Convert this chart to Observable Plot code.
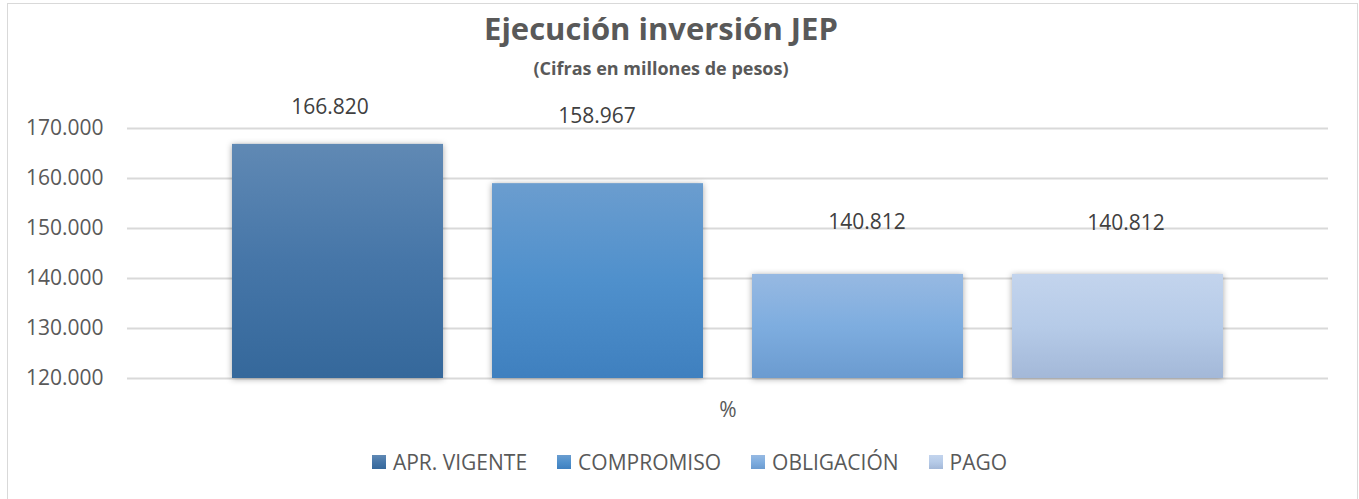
<!DOCTYPE html>
<html>
<head>
<meta charset="utf-8">
<script src="https://cdn.jsdelivr.net/npm/d3@7"></script>
<script src="https://cdn.jsdelivr.net/npm/@observablehq/plot@0.6"></script>
<style>
  html, body { margin: 0; padding: 0; background: #fff; width: 1359px; height: 499px; overflow: hidden; }
  body { font-family: "Open Sans", sans-serif; position: relative; }
  #frame { position: absolute; left: 7px; top: 3px; width: 1351px; height: 520px; border: 1px solid #d9d9d9; box-sizing: border-box; pointer-events: none; }
  #chart { position: absolute; left: 0; top: 0; width: 1359px; }
  #header { position: relative; height: 85px; }
  #title { position: absolute; left: 0; width: 1322px; top: 13px; text-align: center; font-weight: 700; font-size: 31px; line-height: 1; color: #595959; }
  #subtitle { position: absolute; left: 0; width: 1322px; top: 59px; text-align: center; font-weight: 700; font-size: 18px; line-height: 1; color: #595959; }
  #plot svg { display: block; overflow: visible; }
  #plot svg g[aria-label="bar"] rect { filter: drop-shadow(0px 1px 3px rgba(0,0,0,0.35)); }
  #legend { height: 74px; display: flex; justify-content: center; align-items: center; padding-left: 20px; box-sizing: border-box; font-size: 21px; line-height: 1; color: #595959; }
  .item { display: flex; align-items: center; margin: 0 15px; }
  .sw { width: 14px; height: 14px; margin-right: 7px; }
</style>
</head>
<body>
<svg width="0" height="0" style="position:absolute">
  <defs id="gradDefs"></defs>
</svg>
<div id="frame"></div>
<div id="chart">
  <div id="header">
    <div id="title"></div>
    <div id="subtitle"></div>
  </div>
  <div id="plot"></div>
  <div id="legend"></div>
</div>
<script>
// ---- data ----
const titleText = "Ejecución inversión JEP";
const subtitleText = "(Cifras en millones de pesos)";
const categories = ["%"];
const series = ["APR. VIGENTE", "COMPROMISO", "OBLIGACIÓN", "PAGO"];
const values = [166820, 158967, 140812, 140812];
const yTicks = [120000, 130000, 140000, 150000, 160000, 170000];

// ---- styles ----
const gradTop = ["#6089b4", "#6b9dcf", "#97b9e2", "#c3d4ed"];
const gradMid = ["#4676a8", "#4f90cc", "#7eaddf", "#b6cbe8"];
const gradBot = ["#35689b", "#3f80bf", "#6b9bd0", "#a3b8d8"];
const labelDx = [-8, -1, 9, 8];
const labelDy = [-37, -67, -52, -51];

const fmt = d3.formatLocale({decimal: ",", thousands: ".", grouping: [3], currency: ["$", ""]}).format(",");

document.getElementById("title").textContent = titleText;
document.getElementById("subtitle").textContent = subtitleText;

// gradients
const defs = document.getElementById("gradDefs");
series.forEach((s, i) => {
  const ns = "http://www.w3.org/2000/svg";
  const lg = document.createElementNS(ns, "linearGradient");
  lg.setAttribute("id", "grad" + i);
  lg.setAttribute("x1", "0"); lg.setAttribute("y1", "0");
  lg.setAttribute("x2", "0"); lg.setAttribute("y2", "1");
  [[0, gradTop[i]], [0.5, gradMid[i]], [1, gradBot[i]]].forEach(([o, c]) => {
    const st = document.createElementNS(ns, "stop");
    st.setAttribute("offset", o);
    st.setAttribute("stop-color", c);
    lg.appendChild(st);
  });
  defs.appendChild(lg);
});

const rows = series.map((s, i) => ({category: categories[0], series: s, value: values[i], base: yTicks[0]}));

const plot = Plot.plot({
  width: 1359,
  height: 340,
  marginLeft: 127,
  marginRight: 31,
  marginTop: 43,
  marginBottom: 47,
  style: {fontFamily: "Open Sans, sans-serif", fontSize: "21px", color: "#595959", background: "transparent", overflow: "visible"},
  fx: {domain: categories, padding: 0, axis: "bottom", label: null, tickSize: 0, tickPadding: 24},
  x: {domain: series, axis: null, paddingInner: 0.19, paddingOuter: 0.4},
  y: {domain: [yTicks[0], yTicks[yTicks.length - 1]], ticks: yTicks, tickFormat: fmt, tickSize: 0, tickPadding: 24, label: null},
  color: {domain: series, range: series.map((s, i) => `url(#grad${i})`)},
  marks: [
    Plot.gridY(yTicks, {stroke: "#d9d9d9", strokeOpacity: 1, strokeWidth: 2}),
    Plot.barY(rows, {fx: "category", x: "series", y1: "base", y2: "value", fill: "series"}),
    ...rows.map((r, i) => Plot.text([r], {fx: "category", x: "series", y: "value", text: d => fmt(d.value), dx: labelDx[i], dy: labelDy[i], fill: "#404040", fontSize: 21}))
  ]
});
document.getElementById("plot").appendChild(plot);

// legend
const legend = document.getElementById("legend");
series.forEach((s, i) => {
  const it = document.createElement("div");
  it.className = "item";
  const sw = document.createElement("div");
  sw.className = "sw";
  sw.style.background = `linear-gradient(${gradTop[i]}, ${gradMid[i]}, ${gradBot[i]})`;
  const tx = document.createElement("span");
  tx.textContent = s;
  it.appendChild(sw); it.appendChild(tx);
  legend.appendChild(it);
});
</script>
</body>
</html>
